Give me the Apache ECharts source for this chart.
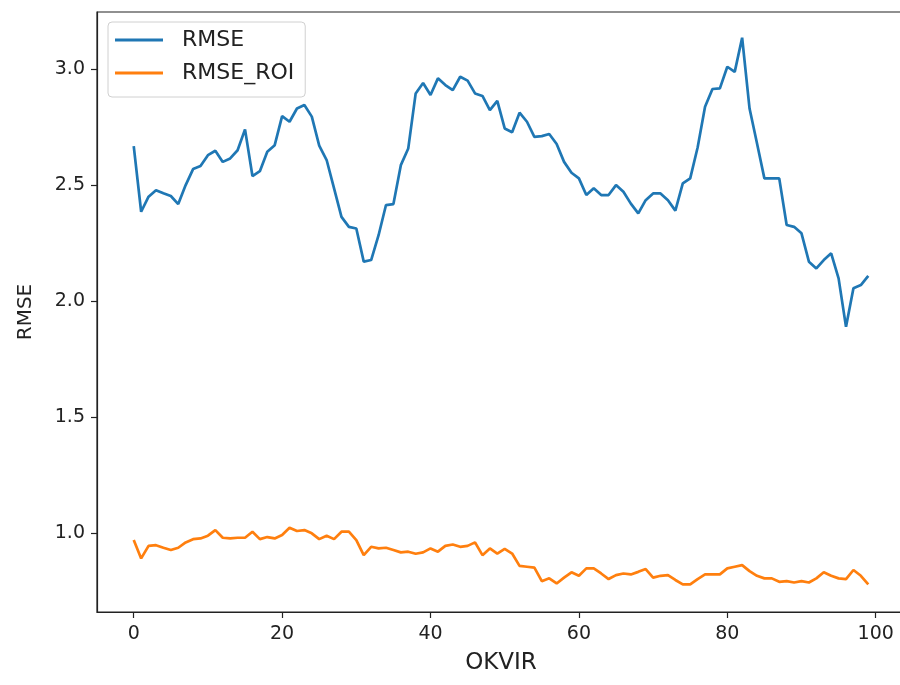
<!DOCTYPE html>
<html>
<head>
<meta charset="utf-8">
<script src="https://cdn.jsdelivr.net/npm/echarts@6/dist/echarts.min.js"></script>
<style>
html,body{margin:0;padding:0;background:#fff;}
#chart{width:900px;height:685px;}
</style>
</head>
<body>
<div id="chart"></div>
<script>
var rmse = [2.668,2.385,2.45,2.478,2.465,2.453,2.418,2.5,2.569,2.582,
2.629,2.648,2.60,2.615,2.65,2.74,2.539,2.56,2.644,2.672,
2.797,2.773,2.83,2.845,2.795,2.67,2.608,2.486,2.363,2.32,
2.313,2.17,2.177,2.284,2.414,2.418,2.586,2.658,2.895,2.94,
2.888,2.96,2.931,2.909,2.967,2.95,2.895,2.884,2.823,2.863,
2.744,2.728,2.812,2.773,2.708,2.711,2.72,2.677,2.60,2.553,
2.529,2.457,2.486,2.457,2.457,2.5,2.471,2.42,2.378,2.435,
2.464,2.464,2.435,2.39,2.507,2.529,2.662,2.838,2.914,2.917,
3.01,2.988,3.135,2.83,2.68,2.529,2.529,2.529,2.328,2.32,
2.292,2.17,2.141,2.177,2.206,2.098,1.889,2.055,2.069,2.109];
var rmseRoi = [0.97,0.891,0.945,0.948,0.937,0.927,0.937,0.96,0.974,0.977,
0.989,1.013,0.98,0.977,0.98,0.98,1.006,0.974,0.983,0.977,
0.992,1.023,1.009,1.013,0.999,0.974,0.989,0.974,1.006,1.006,
0.97,0.905,0.941,0.934,0.937,0.927,0.917,0.92,0.911,0.917,
0.934,0.92,0.945,0.951,0.941,0.945,0.96,0.905,0.934,0.912,
0.932,0.912,0.859,0.855,0.851,0.793,0.805,0.783,0.808,0.831,
0.816,0.848,0.848,0.826,0.802,0.819,0.826,0.822,0.833,0.845,
0.808,0.816,0.819,0.798,0.779,0.779,0.802,0.822,0.822,0.822,
0.848,0.855,0.862,0.836,0.816,0.805,0.805,0.79,0.793,0.787,
0.793,0.787,0.805,0.831,0.816,0.805,0.802,0.841,0.816,0.779];
var seriesNames = ['RMSE', 'RMSE_ROI'];
var xTicks = [0, 20, 40, 60, 80, 100];
var yTicks = [1.0, 1.5, 2.0, 2.5, 3.0];
var xLabel = 'OKVIR';
var yLabel = 'RMSE';

function pairs(arr){ return arr.map(function(v,i){ return [i, v]; }); }

var font = 'DejaVu Sans';
var chart = echarts.init(document.getElementById('chart'), null, {renderer:'canvas'});
chart.setOption({
  animation: false,
  backgroundColor: '#fff',
  grid: {left: 97, top: 12, width: 808, height: 600, show: true, borderColor: '#222', borderWidth: 1.2,
         containLabel: false, outerBoundsMode: 'none'},
  legend: {
    left: 108, top: 22, orient: 'vertical',
    data: seriesNames,
    icon: 'rect',
    itemWidth: 48, itemHeight: 3, itemGap: 9,
    padding: [6, 11, 12, 7],
    backgroundColor: 'rgba(255,255,255,0.8)',
    borderColor: '#d0d0d0', borderWidth: 1, borderRadius: 4,
    textStyle: {fontFamily: font, fontSize: 22, lineHeight: 24, color: '#222', padding: [0,0,0,14]}
  },
  xAxis: {
    type: 'value', min: -4.95, max: 103.95,
    name: xLabel, nameLocation: 'middle', nameGap: 40,
    nameTextStyle: {fontFamily: font, fontSize: 23, color: '#222'},
    splitLine: {show: false},
    axisLine: {show: true, onZero: false, lineStyle: {color: '#222', width: 1.2}},
    axisTick: {show: true, inside: false, length: 6, customValues: xTicks, lineStyle: {color: '#222', width: 1.2}},
    axisLabel: {customValues: xTicks, margin: 13, fontFamily: font, fontSize: 19, color: '#222'}
  },
  yAxis: {
    type: 'value', min: 0.66, max: 3.246,
    name: yLabel, nameLocation: 'middle', nameGap: 61, nameRotate: 90,
    nameTextStyle: {fontFamily: font, fontSize: 20, color: '#222'},
    splitLine: {show: false},
    axisLine: {show: true, onZero: false, lineStyle: {color: '#222', width: 1.2}},
    axisTick: {show: true, inside: false, length: 6, customValues: yTicks, lineStyle: {color: '#222', width: 1.2}},
    axisLabel: {customValues: yTicks, margin: 12, fontFamily: font, fontSize: 19, color: '#222',
      formatter: function(v){ return v.toFixed(1); }}
  },
  series: [
    {name: seriesNames[0], type: 'line', data: pairs(rmse), symbol: 'none', smooth: false,
     lineStyle: {color: '#1f77b4', width: 2.7}, itemStyle: {color: '#1f77b4'}},
    {name: seriesNames[1], type: 'line', data: pairs(rmseRoi), symbol: 'none', smooth: false,
     lineStyle: {color: '#ff7f0e', width: 2.7}, itemStyle: {color: '#ff7f0e'}}
  ]
});
</script>
</body>
</html>
